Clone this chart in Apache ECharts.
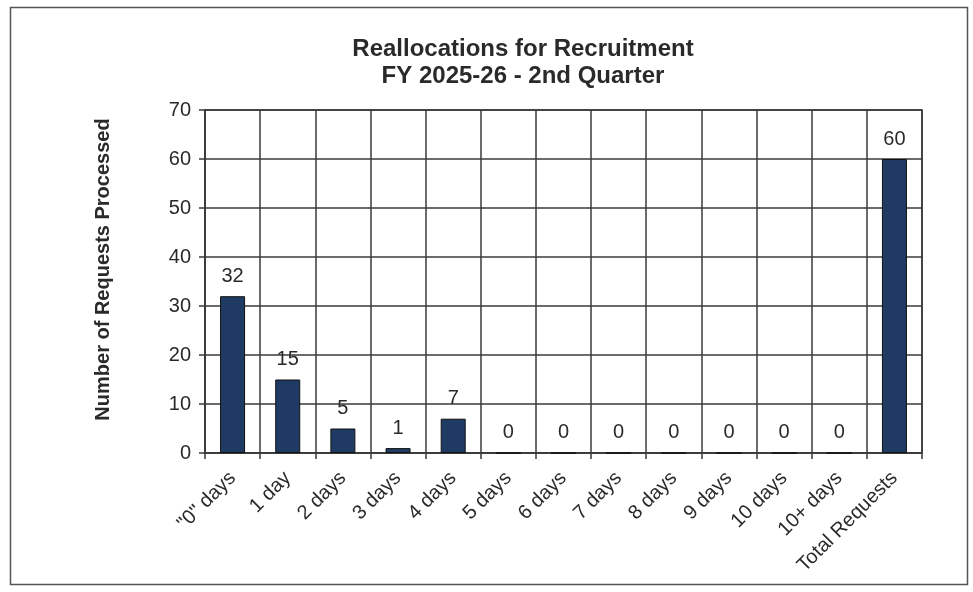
<!DOCTYPE html>
<html>
<head>
<meta charset="utf-8">
<script src="https://cdn.jsdelivr.net/npm/echarts@6/dist/echarts.min.js"></script>
<style>
html,body{margin:0;padding:0;background:#fff;}
#chart{width:973px;height:592px;}
</style>
</head>
<body>
<div id="chart"></div>
<script>
const categories = ['"0" days','1 day','2 days','3 days','4 days','5 days','6 days','7 days','8 days','9 days','10 days','10+ days','Total Requests'];
const values = [32,15,5,1,7,0,0,0,0,0,0,0,60];
const titleLines = ['Reallocations for Recruitment','FY 2025-26 - 2nd Quarter'];
const yAxisName = 'Number of Requests Processed';

const chart = echarts.init(document.getElementById('chart'));
const font = '"Liberation Sans", Arial, sans-serif';
const lineColor = '#3a3a3a';
const textColor = '#2a2a2a';
chart.setOption({
  backgroundColor: '#fff',
  animation: false,
  title: {
    text: titleLines.join('\n'),
    left: 518, textAlign: 'center', top: 31,
    textStyle: {fontFamily: font, fontSize: 24, fontWeight: 'bold', color: textColor, lineHeight: 27}
  },
  graphic: [{
    type: 'rect', shape: {x: 10.5, y: 7.5, width: 957, height: 577},
    style: {fill: 'none', stroke: '#555', lineWidth: 1.5}, silent: true
  }],
  grid: {left: 205, right: 51, top: 110, bottom: 139, show: true, borderColor: lineColor, borderWidth: 1.5},
  xAxis: {
    type: 'category', data: categories, boundaryGap: true,
    axisLine: {lineStyle: {color: lineColor, width: 1.5}},
    axisTick: {show: true, length: 6, lineStyle: {color: lineColor, width: 1.5}},
    splitLine: {show: true, lineStyle: {color: lineColor, width: 1.5}},
    axisLabel: {rotate: 45, interval: 0, fontFamily: font, fontSize: 20, color: textColor, margin: 22}
  },
  yAxis: {
    type: 'value', min: 0, max: 70, interval: 10,
    name: yAxisName, nameLocation: 'middle', nameGap: 92,
    nameTextStyle: {fontFamily: font, fontSize: 20, fontWeight: 'bold', color: textColor, padding: [0, 0, 0, 24]},
    axisLine: {show: true, lineStyle: {color: lineColor, width: 1.5}},
    axisTick: {show: true, length: 6, lineStyle: {color: lineColor, width: 1.5}},
    splitLine: {show: true, lineStyle: {color: lineColor, width: 1.5}},
    axisLabel: {fontFamily: font, fontSize: 20, color: textColor, margin: 14}
  },
  series: [{
    type: 'bar', data: values, barWidth: 25,
    itemStyle: {color: '#1f3a63', borderColor: '#111', borderWidth: 1},
    label: {show: true, position: 'top', distance: 10, fontFamily: font, fontSize: 20, color: textColor}
  }]
});
</script>
</body>
</html>
